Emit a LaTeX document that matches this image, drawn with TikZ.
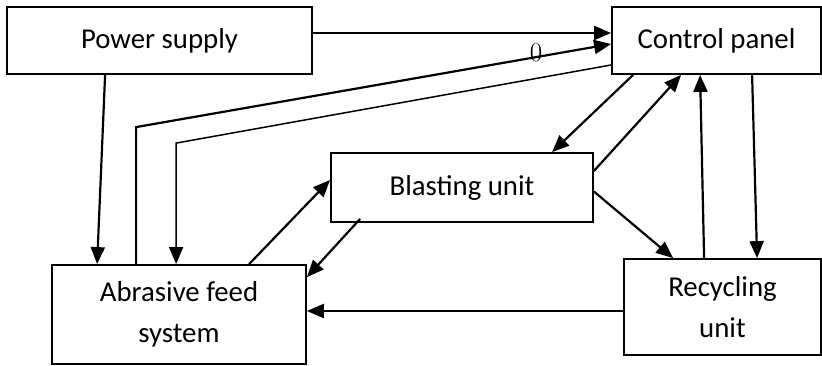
\documentclass[tikz,border=0pt]{standalone}
\usepackage{fontspec}
\setmainfont{Carlito}
\newfontfamily\zerofont{Latin Modern Roman}
\usetikzlibrary{arrows.meta}
\begin{document}
\begin{tikzpicture}[x=1pt,y=-1pt,
  box/.style={draw,line width=1.8pt,inner sep=0pt,align=center,
    font=\fontsize{28.8}{41}\selectfont},
  conn/.style={line width=2.2pt,-{Triangle[length=17pt,width=14pt]}},
  thinconn/.style={line width=1.5pt,-{Triangle[length=17pt,width=14pt]}}]
\useasboundingbox (0,0) rectangle (822,366);
\node[box,minimum width=305pt,minimum height=67pt] (ps) at (159.5,40.5) {Power supply};
\node[box,minimum width=209pt,minimum height=67pt] (cp) at (716.5,40.5) {Control panel};
\node[box,minimum width=262pt,minimum height=69pt] (bu) at (462,187.5) {Blasting unit};
\node[box,minimum width=254pt,minimum height=99pt] (af) at (179,314.5) {Abrasive feed\\system};
\node[box,minimum width=197pt,minimum height=96pt] (ru) at (722.5,307) {Recycling\\unit};
% connectors
\draw[conn] ([yshift=7.5pt]ps.east) -- ([yshift=7.5pt]cp.west);
\draw[conn] ([xshift=99pt]ps.south west) -- ([xshift=46pt]af.north west);
\draw[conn] ([xshift=85pt]af.north west) -- ([xshift=85pt,yshift=137pt]af.north west) -- ([yshift=-3.5pt]cp.west);
\node[font=\zerofont\fontsize{27}{30}\selectfont,inner sep=0pt] (zero) at (536,53) {0};
\draw[thinconn] ([yshift=-24.5pt]cp.west) -- ([xshift=125pt,yshift=121pt]af.north west) -- ([xshift=125pt]af.north west);
\draw[conn] ([xshift=22pt]cp.south west) -- ([xshift=222pt]bu.north west);
\draw[conn] ([yshift=16.5pt]bu.east) -- ([xshift=70pt]cp.south west);
\draw[conn] ([xshift=81pt]ru.north west) -- ([xshift=89pt]cp.south west);
\draw[conn] ([xshift=141pt]cp.south west) -- ([xshift=134pt]ru.north west);
\draw[conn] ([yshift=-4pt]bu.east) -- ([xshift=50pt]ru.north west);
\draw[conn] ([xshift=198pt]af.north west) -- ([yshift=7.5pt]bu.west);
\draw[conn] ([xshift=30pt,yshift=4pt]bu.south west) -- ([yshift=-13pt]af.north east);
\draw[conn] ([yshift=-4pt]ru.west) -- ([yshift=3.5pt]af.east);
\end{tikzpicture}
\end{document}
